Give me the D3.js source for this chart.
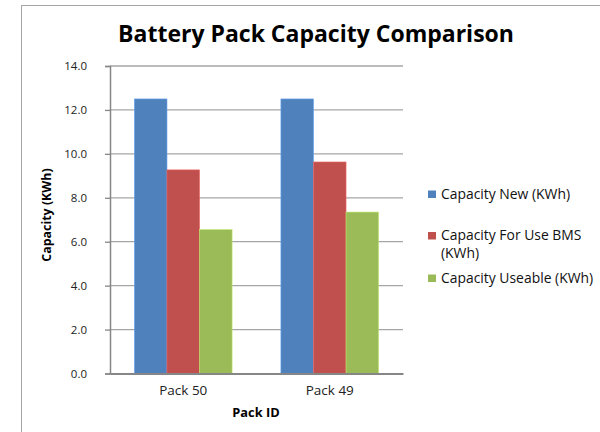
<!DOCTYPE html>
<html>
<head>
<meta charset="utf-8">
<script src="https://cdn.jsdelivr.net/npm/d3@7"></script>
<style>
  html, body { margin: 0; padding: 0; background: #fff; }
  svg { display: block; font-family: "Open Sans", sans-serif; }
</style>
</head>
<body>
<svg id="chart" width="600" height="432"></svg>
<script>
// Chart data
const categories = ["Pack 50", "Pack 49"];
const seriesNames = ["Capacity New (KWh)", "Capacity For Use BMS (KWh)", "Capacity Useable (KWh)"];
const capacityNew = [12.5, 12.5];
const capacityBMS = [9.27, 9.63];
const capacityUseable = [6.55, 7.35];
const yTicks = [0, 2, 4, 6, 8, 10, 12, 14];
const colors = ["#4F81BD", "#C0504D", "#9BBB59"];

const seriesValues = [capacityNew, capacityBMS, capacityUseable];

const svg = d3.select("#chart");

// Chart frame (left and top edges fall inside the view)
svg.append("rect")
  .attr("x", 21.5).attr("y", 5.5)
  .attr("width", 620).attr("height", 440)
  .attr("fill", "#fff").attr("stroke", "#a6a6a6").attr("stroke-width", 1);

const plot = { left: 110, right: 403, top: 66, bottom: 373.5 };

const x0 = d3.scaleBand().domain(categories).range([plot.left, plot.right]).paddingInner(0).paddingOuter(0);
const x1 = d3.scaleBand().domain(d3.range(seriesNames.length))
  .range([0, x0.bandwidth()]).paddingInner(0).paddingOuter(0.75);
const y = d3.scaleLinear().domain([0, 14]).range([plot.bottom, plot.top]);

// Gridlines
svg.append("g")
  .selectAll("line")
  .data(yTicks.filter(t => t > 0))
  .join("line")
  .attr("x1", plot.left).attr("x2", plot.right)
  .attr("y1", d => y(d)).attr("y2", d => y(d))
  .attr("stroke", "#a6a6a6").attr("stroke-width", 1.3);

// Bars
const groups = svg.append("g")
  .selectAll("g")
  .data(categories)
  .join("g")
  .attr("transform", d => `translate(${x0(d)},0)`);

groups.selectAll("rect")
  .data((d, i) => seriesValues.map((vals, s) => ({ s, v: vals[i] })))
  .join("rect")
  .attr("x", d => x1(d.s))
  .attr("width", x1.bandwidth())
  .attr("y", d => y(d.v))
  .attr("height", d => y(0) - y(d.v))
  .attr("fill", d => colors[d.s])
  .attr("stroke", d => d3.color(colors[d.s]).brighter(0.6))
  .attr("stroke-width", 0.6);

// Y axis
const yAxis = d3.axisLeft(y).tickValues(yTicks).tickFormat(d3.format(".1f")).tickSize(5).tickPadding(18);
const gy = svg.append("g").attr("transform", `translate(${plot.left},0)`).call(yAxis);
gy.select(".domain").attr("stroke", "#868686").attr("stroke-width", 1.5);
gy.selectAll(".tick line").attr("stroke", "#868686").attr("stroke-width", 1.3);
gy.selectAll(".tick text").attr("font-size", 11.5).attr("fill", "#222").attr("font-family", "'Open Sans', sans-serif");

// X axis
const xAxis = d3.axisBottom(x0).tickSize(0).tickPadding(12);
const gx = svg.append("g").attr("transform", `translate(0,${plot.bottom})`).call(xAxis);
gx.select(".domain").attr("stroke", "#868686").attr("stroke-width", 2);
gx.selectAll(".tick text").attr("font-size", 13.5).attr("fill", "#222").attr("font-family", "'Open Sans', sans-serif");

// Title
svg.append("text")
  .attr("x", 316).attr("y", 42)
  .attr("text-anchor", "middle")
  .attr("font-size", 23).attr("font-weight", "bold").attr("fill", "#000")
  .text("Battery Pack Capacity Comparison");

// Axis titles
svg.append("text")
  .attr("x", 256).attr("y", 417)
  .attr("text-anchor", "middle")
  .attr("font-size", 12.8).attr("font-weight", "bold").attr("fill", "#000")
  .text("Pack ID");

svg.append("text")
  .attr("transform", "translate(51,215) rotate(-90)")
  .attr("text-anchor", "middle")
  .attr("font-size", 12.4).attr("font-weight", "bold").attr("fill", "#000")
  .text("Capacity (KWh)");

// Legend
const legendItems = [
  { lines: ["Capacity New (KWh)"], y: 198.5 },
  { lines: ["Capacity For Use BMS", "(KWh)"], y: 240 },
  { lines: ["Capacity Useable (KWh)"], y: 282.5 }
];
const legend = svg.append("g");
legendItems.forEach((item, i) => {
  legend.append("rect")
    .attr("x", 428).attr("y", item.y - 8)
    .attr("width", 8).attr("height", 7.5)
    .attr("fill", colors[i]);
  item.lines.forEach((ln, j) => {
    legend.append("text")
      .attr("x", 441).attr("y", item.y + j * 17.5)
      .attr("font-size", 13.9).attr("fill", "#111")
      .text(ln);
  });
});
</script>
</body>
</html>
